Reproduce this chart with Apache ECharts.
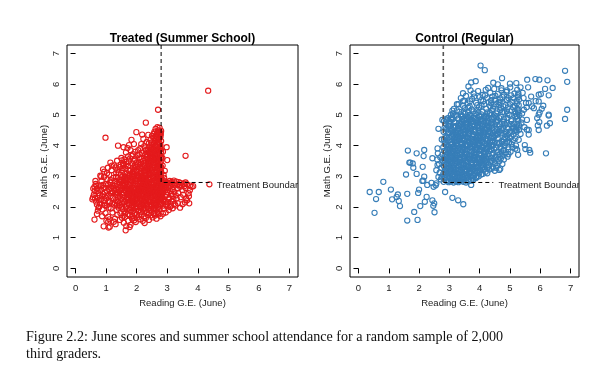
<!DOCTYPE html>
<html><head><meta charset="utf-8">
<script src="https://cdn.jsdelivr.net/npm/echarts@6/dist/echarts.min.js"></script>
<style>html,body{margin:0;padding:0;background:#fff}#c{width:616px;height:384px}</style>
</head><body><div id="c"></div>
<script>
const panelTitles = ['Treated (Summer School)', 'Control (Regular)'];
const xAxisName = 'Reading G.E. (June)';
const yAxisName = 'Math G.E. (June)';
const axisTicks = [0, 1, 2, 3, 4, 5, 6, 7];
const tickLabels = ['0', '1', '2', '3', '4', '5', '6', '7'];
const boundary = 2.8;
const boundaryLineEnd = 4.45;
const boundaryLabel = 'Treatment Boundary';
const boundaryLabelAt = [4.62, 2.72];
const caption1 = 'Figure 2.2: June scores and summer school attendance for a random sample of 2,000';
const caption2 = 'third graders.';

// [reading, math] June scores, treated students
const treatedPoints = [
[4.34,5.79],[2.70,5.17],[2.30,4.75],[0.98,4.26],[1.39,4.00],[1.99,4.44],[2.18,4.36],[1.83,4.19],[3.60,3.67],[2.98,3.95],[3.00,3.53],[4.38,2.74],[1.64,1.24],[1.77,1.35],[0.92,1.37],[1.08,1.33],[1.12,1.36],[1.31,1.44],[2.26,1.48],[0.62,1.59],[1.07,1.52],[0.55,2.25],[0.57,2.31],[0.62,2.66],[0.66,2.75],[0.70,1.77],[0.77,2.00],[0.90,3.23],[0.84,2.99],[1.03,3.10],[1.14,3.45],[1.36,3.51],[1.31,3.29],[3.72,2.12],[3.85,2.68],[3.74,2.55],[3.50,2.09],[3.27,2.05],[3.09,2.00],
[2.62,4.55],[2.68,4.60],[2.75,4.58],[2.72,4.50],[2.58,4.45],[2.66,4.40],[2.77,4.42],[2.50,4.32],[2.55,4.25],[2.45,4.18],[2.40,4.08],[2.33,4.12],[2.25,3.98],[2.12,3.92],[2.05,3.85],[1.95,3.80],[1.88,3.72],[1.80,3.85],[1.72,3.65],[1.65,3.78],[1.60,3.55],[1.55,3.42],[1.50,3.60],[1.48,3.38],[1.70,3.92],[2.22,4.22],[1.91,4.05],[2.38,4.35],[2.15,4.05],[1.57,3.95],[1.75,4.02],
[2.85,3.35],[2.88,3.05],[2.92,3.18],[2.84,3.60],[2.90,2.95],[2.86,3.80],
[2.78,4.30],[2.74,4.21],[2.69,4.12],[2.77,4.05],[2.62,4.02],[2.71,3.96],[2.56,3.93],[2.79,3.88],[2.65,3.84],[2.48,3.81],[2.73,3.77],[2.60,3.72],[2.76,3.69],[2.52,3.66],[2.68,3.62],[2.43,3.60],[2.79,3.57],[2.57,3.54],[2.70,3.50],[2.47,3.47],[2.64,3.44],[2.76,3.41],[2.38,3.39],[2.55,3.36],[2.72,3.33],[2.61,3.30],[2.44,3.27],[2.78,3.25],[2.50,3.22],[2.67,3.19],[2.35,3.17],[2.58,3.14],[2.74,3.11],[2.42,3.09],[2.63,3.06],[2.79,3.03],[2.53,3.01],[2.69,2.98],[2.37,2.96],[2.46,2.93],[2.75,2.90],[2.59,2.88],[2.32,2.86],[2.66,2.83],[2.49,2.81],[2.78,2.78],[2.40,2.76],[2.56,2.73],[2.71,2.70],[2.34,2.68],[2.62,2.65],[2.45,2.62],[2.77,2.60],[2.52,2.57],[2.68,2.55],[2.39,2.52],[2.58,2.49],[2.74,2.46],[2.44,2.44],[2.63,2.41],[2.31,2.39],[2.54,2.36],[2.79,2.34],[2.48,2.31],[2.67,2.28],[2.36,2.26],[2.60,2.23],[2.72,2.20],[2.43,2.17],[2.55,2.14],[2.76,2.11],[2.33,2.08],[2.64,2.05],[2.50,2.02],
[2.80,4.48],[2.79,4.38],[2.80,4.15],[2.78,3.98],[2.80,3.80],[2.80,3.63],[2.79,3.46],[2.80,3.30],[2.80,3.15],[2.79,2.97],[2.80,2.85],[2.80,2.68],[2.79,2.52],[2.80,2.40],[2.80,2.25],[2.70,4.35],[2.66,4.27],[2.73,4.10],[2.60,3.98],[2.70,3.87],[2.53,3.75],[2.66,3.74],[2.74,3.58],[2.61,3.59],[2.49,3.52],[2.69,3.38],[2.58,3.26],[2.75,3.20],[2.52,3.10],[2.65,2.94],[2.72,2.83],[2.57,2.78],[2.42,2.70],[2.67,2.62],[2.50,2.50],[2.70,2.38],[2.59,2.30],[2.45,2.22],[2.73,2.15],[2.62,2.10],[2.41,2.03],[2.57,1.96],[2.75,1.93],[2.47,1.89],[2.68,1.85],[2.34,1.83],[2.55,1.79],[2.72,1.76],[2.44,3.70],[2.37,3.55],[2.30,3.44],[2.41,3.33],[2.28,3.21],[2.63,4.20],[2.58,4.10],[2.51,4.02],[2.45,3.92],[2.36,3.84],[2.29,3.73],
[1.52,3.52],[1.78,3.58],[1.95,3.55],[2.08,3.61],[2.21,3.50],[2.33,3.63],[1.66,3.47],[2.00,3.45],
[1.44,3.30],[1.58,3.36],[1.71,3.33],[1.86,3.41],[1.97,3.31],[2.12,3.38],[2.26,3.35],[2.38,3.42],[1.63,3.25],[1.92,3.22],[2.17,3.26],
[1.41,3.12],[1.53,3.18],[1.68,3.10],[1.80,3.20],[1.89,3.08],[2.03,3.16],[2.14,3.11],[2.24,3.19],[2.32,3.06],[1.75,3.02],[2.07,3.01],[1.48,3.04],
[1.38,2.95],[1.50,2.90],[1.61,2.98],[1.73,2.92],[1.84,2.99],[1.95,2.91],[2.06,2.97],[2.18,2.93],[2.27,2.99],[1.57,2.84],[1.83,2.86],[2.11,2.85],[2.22,2.88],
[1.35,2.76],[1.44,2.81],[1.56,2.72],[1.66,2.79],[1.77,2.71],[1.89,2.78],[1.99,2.74],[2.09,2.70],[2.20,2.77],[2.29,2.73],[1.47,2.68],[1.70,2.66],[1.93,2.64],[2.16,2.62],
[1.33,2.58],[1.42,2.52],[1.53,2.61],[1.62,2.55],[1.74,2.59],[1.85,2.51],[1.96,2.57],[2.05,2.53],[2.13,2.60],[2.24,2.56],[2.31,2.50],[1.58,2.46],[1.79,2.44],[2.01,2.47],[2.20,2.43],
[1.36,2.40],[1.46,2.34],[1.55,2.39],[1.67,2.31],[1.76,2.37],[1.88,2.33],[1.98,2.38],[2.10,2.30],[2.19,2.36],[2.28,2.32],[1.50,2.26],[1.72,2.24],[1.94,2.25],[2.15,2.22],
[1.39,2.18],[1.52,2.12],[1.63,2.19],[1.75,2.13],[1.86,2.17],[1.97,2.10],[2.08,2.16],[2.18,2.11],[2.26,2.19],[1.45,2.06],[1.68,2.04],[1.90,2.07],[2.12,2.03],[2.22,2.05],
[1.41,1.98],[1.54,1.93],[1.65,1.99],[1.78,1.91],[1.89,1.97],[2.00,1.94],[2.11,1.99],[2.21,1.92],[2.30,1.96],[1.60,1.86],[1.83,1.84],[2.05,1.87],[2.25,1.85],
[1.47,1.80],[1.71,1.77],[1.94,1.79],[2.16,1.76],[2.36,1.74],[1.57,1.72],[1.86,1.70],[2.08,1.73],
[1.64,2.88],[1.81,2.62],[1.90,2.48],[2.03,2.68],[2.14,2.79],[2.25,2.66],[2.35,2.58],[1.69,2.43],[1.83,2.20],[2.02,2.28],[2.30,2.23],[2.37,2.92],[2.27,3.10],[2.10,3.27],[1.87,3.13],[1.70,2.87],[1.60,2.69],[1.96,2.85],[2.19,2.98],[2.32,2.80],[2.39,3.15],[2.04,2.40],[1.77,2.52],[1.92,2.15],[2.23,2.47],[2.36,2.37],[1.62,3.08],[2.00,3.04],[1.55,2.78],[2.12,2.50],
[0.60,2.40],[0.63,2.52],[0.67,2.18],[0.70,2.61],[0.72,2.30],[0.75,2.45],[0.78,2.70],[0.80,2.12],[0.82,2.55],[0.85,2.85],[0.86,2.35],[0.88,1.92],[0.91,2.62],[0.93,2.98],[0.95,2.22],[0.96,2.48],[0.98,1.80],[1.00,2.75],[1.02,2.05],[1.04,2.90],[1.05,2.38],[1.07,1.68],[1.09,2.58],[1.10,3.05],[1.12,2.15],[1.13,2.80],[1.15,1.95],[1.16,2.45],[1.18,3.20],[1.20,2.68],[1.21,1.82],[1.23,2.30],[1.24,2.95],[1.26,2.08],[1.27,2.55],[1.29,1.62],[1.30,2.85],[1.32,2.22],[1.33,3.10],[1.34,1.90],[1.36,2.48],[1.37,1.75],[1.38,2.65],[0.65,2.85],[0.73,1.88],[0.81,3.02],[0.87,1.70],[0.94,3.15],[1.01,1.55],[1.06,3.28],[1.11,1.60],[1.19,3.35],[1.25,1.52],[0.70,2.08],[0.76,2.22],[0.90,2.42],[0.99,2.63],[1.08,2.18],[1.14,2.35],[1.22,2.48],[1.28,2.70],[1.35,2.05],[0.58,2.60],[0.68,2.70],[0.84,2.25],[0.97,2.05],[1.03,2.52],[1.17,2.62],[1.31,2.40],[0.79,2.38],[0.89,2.72],[1.00,2.30],[1.20,2.12],[0.64,2.28],[0.75,1.98],
[1.45,1.58],[1.58,1.49],[1.72,1.55],[1.85,1.62],[1.97,1.51],[2.10,1.60],[2.40,1.58],[2.52,1.66],[2.65,1.62],[2.78,1.70],[1.80,1.42],[1.92,1.57],[2.02,1.66],[1.52,1.65],[2.30,1.64],[1.66,1.38],[2.20,1.55],[2.86,1.78],[2.60,1.72],[2.95,1.82],
[2.85,2.82],[2.92,2.84],[3.00,2.80],[3.08,2.85],[3.15,2.82],[3.22,2.86],[3.30,2.83],[3.38,2.81],[3.45,2.78],[3.55,2.76],[3.65,2.74],[3.75,2.70],[3.80,2.66],
[2.84,2.70],[2.90,2.62],[2.96,2.72],[3.02,2.55],[3.10,2.68],[3.18,2.58],[3.25,2.70],[3.33,2.60],[3.42,2.66],[3.50,2.55],[3.60,2.62],[3.70,2.45],[2.86,2.45],[2.93,2.35],[3.00,2.48],[3.07,2.30],[3.13,2.42],[3.20,2.25],[3.28,2.38],[3.36,2.46],[3.44,2.32],[3.52,2.40],[3.62,2.28],[3.71,2.35],[2.88,2.18],[2.95,2.08],[3.03,2.15],[3.12,2.05],[3.18,1.96],[3.35,2.12],[3.42,1.98],[3.58,2.15],[3.65,2.22],[2.90,1.95],[3.05,1.90],[2.84,2.58],[2.98,2.62],[3.16,2.74],[3.40,2.72],[3.56,2.68],[2.83,2.30],[2.91,2.76],[3.05,2.77],[3.26,2.77],[3.48,2.70],
[1.74,3.48],[1.83,3.66],[1.91,3.50],[2.02,3.69],[2.16,3.57],[2.27,3.68],[2.39,3.49],[2.47,3.63],[2.56,3.46],[2.63,3.68],[2.71,3.55],[2.77,3.34],[2.13,3.46],[2.35,3.29],
[2.19,3.75],[2.31,3.86],[2.42,3.97],[2.54,3.86],[2.59,4.15],[2.67,4.06],[2.75,4.25],[2.77,3.93],[2.64,3.52],[2.52,3.58],[2.46,3.74],[2.39,3.79],[2.27,3.91],[2.09,3.72],[2.48,4.10],[2.69,4.45],[2.74,4.37],[2.61,4.31],[2.56,4.38],
[1.54,3.27],[1.67,3.40],[1.79,3.09],[1.88,3.29],[1.99,3.19],[2.05,3.39],[2.16,3.17],[2.23,3.42],[2.31,3.27],[2.40,3.05],[2.47,3.19],[2.55,3.42],[2.62,3.13],[2.68,3.28],[2.77,3.13],[1.73,3.21],[1.95,3.37],[2.19,3.04],[2.43,3.46],[2.66,3.01],
[1.43,2.88],[1.52,2.97],[1.61,2.77],[1.69,2.95],[1.78,2.83],[1.87,2.93],[1.94,2.70],[2.02,2.89],[2.11,2.76],[2.18,2.67],[2.26,2.91],[2.33,2.63],[2.41,2.87],[2.49,2.67],[2.57,2.96],[2.64,2.72],[2.71,2.91],[2.78,2.65],[1.49,2.63],[1.73,2.74],[1.99,2.96],[2.24,2.78],[2.46,2.79],[2.70,2.77],
[1.40,2.45],[1.49,2.55],[1.57,2.33],[1.65,2.50],[1.73,2.29],[1.81,2.55],[1.89,2.41],[1.97,2.30],[2.06,2.58],[2.14,2.42],[2.22,2.28],[2.29,2.59],[2.37,2.45],[2.45,2.33],[2.53,2.55],[2.61,2.37],[2.69,2.49],[2.77,2.27],[1.61,2.60],[1.86,2.27],[2.09,2.45],[2.33,2.29],[2.56,2.44],[2.74,2.57],
[1.43,2.12],[1.51,2.01],[1.59,2.16],[1.67,1.93],[1.75,2.07],[1.83,1.97],[1.91,2.18],[1.99,2.02],[2.07,1.90],[2.15,2.09],[2.23,1.96],[2.31,2.14],[2.39,1.95],[2.47,2.09],[2.55,1.92],[2.63,2.14],[2.71,2.01],[2.79,2.08],[1.63,1.81],[1.89,1.88],[2.14,1.83],[2.41,1.80],[2.65,1.95],[1.97,2.21],
[1.62,1.68],[1.77,1.73],[2.00,1.75],[2.25,1.70],[2.48,1.73],[2.70,1.80],[1.92,1.64],
[2.82,2.62],[2.87,2.52],[2.94,2.56],[2.99,2.39],[3.05,2.63],[3.11,2.52],[3.17,2.36],[3.23,2.49],[3.31,2.28],[2.83,2.40],[2.89,2.26],[2.96,2.17],[3.04,2.26],[3.14,2.18],[3.24,2.10],[2.82,2.12],[2.87,2.05],[3.00,2.02],[2.81,2.77],[2.95,2.80],[3.12,2.79],[3.34,2.74],[3.60,2.80],
[1.39,2.32],[1.29,2.14],[1.18,2.52],[1.06,2.72],[0.95,2.35],[0.83,2.68],[0.72,2.52],[1.15,2.88],[1.25,2.62],[1.32,2.98],[1.08,1.98],[0.93,2.12],[1.40,2.72],[1.37,3.20],[1.26,3.36],
[1.62,2.93],[1.71,3.04],[1.80,2.89],[1.87,3.02],[1.93,3.15],[2.01,2.93],[2.09,3.09],[2.16,2.88],[2.24,3.04],[2.31,2.94],[2.38,3.22],[2.45,3.06],[2.53,3.28],[2.60,3.02],[2.67,3.37],[2.73,3.04],
[1.64,2.62],[1.72,2.49],[1.80,2.73],[1.88,2.60],[1.95,2.45],[2.03,2.62],[2.11,2.56],[2.19,2.72],[2.27,2.52],[2.34,2.74],[2.42,2.57],[2.50,2.74],[2.57,2.61],[2.65,2.83],[2.73,2.66],
[1.66,2.25],[1.74,2.40],[1.82,2.31],[1.90,2.22],[1.98,2.44],[2.06,2.35],[2.14,2.26],[2.22,2.40],[2.30,2.43],[2.38,2.18],[2.46,2.41],[2.54,2.26],[2.62,2.48],[2.70,2.30],[2.78,2.44],
[1.71,2.13],[1.84,2.05],[1.96,1.97],[2.09,2.10],[2.21,2.15],[2.34,2.02],[2.46,1.98],[2.59,2.05],[2.72,1.89],
[2.20,3.30],[2.28,3.52],[2.35,3.72],[2.43,3.86],[2.50,3.92],[2.58,3.80],[2.65,3.97],[2.72,3.68],[2.76,3.85],[2.70,4.20]
];

// [reading, math] June scores, control students
const controlPoints = [
[0.37,2.49],[0.53,1.81],[0.58,2.26],[0.67,2.49],[0.82,2.82],[1.07,2.57],[1.11,2.25],[1.26,2.33],[1.30,2.41],[1.33,2.20],[1.37,2.03],[1.57,3.06],[1.61,2.43],[1.63,3.84],[1.68,3.45],[1.61,1.56],[1.79,3.42],[1.81,3.28],[1.84,1.84],[1.92,3.75],[1.92,3.08],[1.95,1.58],[1.97,2.46],[2.00,2.57],[2.04,2.03],[2.12,3.31],[2.17,2.99],[2.11,2.85],[2.17,3.86],[2.15,3.66],[2.19,2.17],[2.25,2.33],[2.27,2.72],[2.44,2.22],[2.47,2.04],[2.50,2.12],[2.51,1.83],[2.41,2.79],[2.44,3.59],[2.61,3.37],[2.61,3.91],[2.64,4.55],[2.86,2.49],[3.10,2.30],[3.29,2.22],[3.46,2.09],[3.72,2.72],[2.48,2.66],[2.57,2.77],[1.71,3.45],[2.14,2.86],
[2.62,3.75],[2.57,3.20],[2.75,2.99],[2.55,2.71],[2.66,3.40],[2.70,3.62],[2.74,3.28],[2.68,3.12],[2.78,3.50],[2.72,2.90],[2.64,2.98],[2.77,3.70],[2.60,3.55],[2.75,4.20],[2.77,4.84],[2.95,4.90],[3.05,5.00],[3.25,5.35],[2.88,4.86],[3.10,5.14],[3.49,5.46],
[2.81,2.82],[2.83,2.95],[2.80,3.08],[2.86,3.20],[2.82,3.33],[2.84,3.45],[2.81,3.58],[2.87,3.70],[2.83,3.83],[2.80,3.95],[2.85,4.08],[2.82,4.20],[2.88,4.32],[2.81,4.45],[2.84,4.58],[2.86,4.72],[2.82,4.80],[2.90,2.88],[2.92,3.02],[2.89,3.14],[2.93,3.27],[2.90,3.39],[2.94,3.52],[2.91,3.64],[2.95,3.77],[2.92,3.89],[2.90,4.02],[2.94,4.14],[2.91,4.27],[2.95,4.39],[2.93,4.52],[2.96,4.64],
[2.98,2.81],[3.06,2.84],[3.14,2.80],[3.22,2.83],[3.30,2.81],[3.38,2.85],[3.46,2.82],[3.55,2.80],[3.63,2.84],[3.72,2.86],[3.80,2.90],[3.88,2.95],
[3.02,2.95],[3.10,3.05],[3.18,2.92],[3.26,3.10],[3.34,2.98],[3.42,3.15],[3.50,3.02],[3.58,2.94],[3.66,3.08],[3.74,3.18],[3.82,3.04],[3.92,3.12],[4.02,3.20],[4.10,3.08],[3.05,3.18],[3.21,3.22],[3.37,3.20],[3.53,3.25],[3.70,3.00],[3.97,3.00],[4.20,3.15],[4.32,3.22],
[3.00,3.30],[3.08,3.42],[3.16,3.35],[3.24,3.48],[3.32,3.32],[3.40,3.44],[3.48,3.38],[3.56,3.50],[3.64,3.34],[3.72,3.46],[3.80,3.30],[3.88,3.42],[3.96,3.36],[4.04,3.48],[4.12,3.32],[4.22,3.45],[4.30,3.38],[4.40,3.50],[4.50,3.42],[4.58,3.35],[3.12,3.26],[3.45,3.28],[3.78,3.24],[4.08,3.28],[4.45,3.30],
[3.01,3.62],[3.09,3.75],[3.17,3.56],[3.25,3.70],[3.33,3.58],[3.41,3.78],[3.49,3.64],[3.57,3.72],[3.65,3.55],[3.73,3.80],[3.81,3.60],[3.89,3.74],[3.97,3.57],[4.05,3.68],[4.13,3.79],[4.21,3.61],[4.29,3.73],[4.37,3.58],[4.45,3.76],[4.53,3.64],[4.62,3.70],[4.75,3.66],[4.85,3.75],[3.20,3.82],[3.52,3.52],[3.85,3.86],[4.18,3.53],[4.70,3.58],
[3.02,3.92],[3.10,4.05],[3.18,3.88],[3.26,4.00],[3.34,3.94],[3.42,4.08],[3.50,3.85],[3.58,3.98],[3.66,4.10],[3.74,3.90],[3.82,4.02],[3.90,3.95],[3.98,4.08],[4.06,3.87],[4.14,4.00],[4.22,3.92],[4.30,4.06],[4.38,3.88],[4.46,4.02],[4.54,3.94],[4.64,4.08],[4.72,3.90],[4.82,4.00],[4.95,3.95],[5.05,4.05],[3.14,3.97],[3.46,3.96],[3.78,4.12],[4.10,4.12],[4.42,3.98],
[3.00,4.18],[3.08,4.30],[3.16,4.15],[3.24,4.36],[3.32,4.22],[3.40,4.32],[3.48,4.16],[3.56,4.28],[3.64,4.38],[3.72,4.20],[3.80,4.34],[3.88,4.24],[3.96,4.40],[4.04,4.18],[4.12,4.30],[4.20,4.22],[4.28,4.38],[4.36,4.26],[4.44,4.16],[4.52,4.34],[4.60,4.24],[4.70,4.40],[4.80,4.20],[4.90,4.32],[5.00,4.25],[5.12,4.36],[3.20,4.26],[3.52,4.40],[3.84,4.16],[4.16,4.40],[4.48,4.28],
[3.05,4.48],[3.13,4.60],[3.21,4.44],[3.29,4.56],[3.37,4.68],[3.45,4.50],[3.53,4.62],[3.61,4.46],[3.69,4.58],[3.77,4.70],[3.85,4.52],[3.93,4.64],[4.01,4.47],[4.09,4.60],[4.17,4.52],[4.25,4.66],[4.33,4.48],[4.41,4.58],[4.49,4.70],[4.57,4.54],[4.65,4.62],[4.75,4.50],[4.85,4.68],[4.95,4.55],[5.08,4.62],[5.20,4.50],[3.00,4.62],[3.40,4.42],[3.80,4.45],[4.20,4.42],
[3.00,4.80],[3.10,4.92],[3.20,4.76],[3.30,4.88],[3.40,4.98],[3.50,4.82],[3.60,4.94],[3.70,4.78],[3.80,4.90],[3.90,4.84],[4.00,4.96],[4.10,4.80],[4.20,4.92],[4.30,4.76],[4.40,4.88],[4.50,4.98],[4.60,4.82],[4.70,4.94],[4.80,4.78],[4.92,4.90],[5.05,4.85],[5.18,4.95],[3.55,4.72],[3.95,4.74],
[3.12,5.05],[3.25,5.15],[3.38,5.02],[3.50,5.22],[3.62,5.08],[3.74,5.18],[3.86,5.04],[3.98,5.25],[4.10,5.10],[4.22,5.20],[4.34,5.06],[4.46,5.28],[4.58,5.12],[4.70,5.22],[4.82,5.08],[4.94,5.25],[5.06,5.15],[5.18,5.05],[3.45,5.30],[4.05,5.02],
[3.45,5.45],[3.60,5.38],[3.75,5.52],[3.88,5.40],[4.00,5.58],[4.12,5.45],[4.25,5.55],[4.38,5.38],[4.50,5.50],[4.62,5.42],[4.75,5.58],[4.88,5.48],[5.00,5.35],[5.12,5.55],[3.30,5.35],
[3.63,5.93],[3.80,5.70],[3.95,5.78],[4.10,5.65],[4.20,5.82],[4.35,5.72],[4.48,5.85],[4.60,5.68],[4.72,5.80],[4.88,5.75],[5.01,5.90],[5.15,5.70],
[5.22,4.45],[5.26,4.58],[5.24,4.70],[5.28,4.82],[5.23,4.95],[5.27,5.08],[5.25,5.20],[5.29,5.32],[5.22,5.45],[5.26,5.58],[5.28,5.70],[5.24,5.82],[5.30,4.52],[5.31,5.00],[5.30,5.50],
[4.66,3.72],[4.78,3.85],[4.90,4.10],[5.02,3.80],[5.10,4.18],[5.18,3.90],[5.00,4.45],[5.12,4.72],[4.88,4.45],[4.76,4.12],[4.68,3.25],[4.65,3.21],[4.30,3.32],[4.92,3.64],[5.27,3.70],[5.24,3.86],[5.29,4.19],
[4.03,6.61],[4.17,6.46],[3.72,6.06],[3.87,6.10],[3.45,5.71],[4.74,6.20],[4.72,5.87],[5.21,6.04],[5.57,6.15],[5.84,6.17],[5.97,6.15],[6.24,6.13],[6.82,6.44],[6.89,6.08],[6.89,5.17],[6.82,4.87],[6.41,5.88],[6.28,5.64],[6.16,5.85],[5.95,5.66],[5.98,5.08],[6.28,4.98],[6.32,4.73],[6.19,3.75],[5.95,4.51],[5.92,4.66],[5.67,3.77],[5.51,3.89],[5.62,4.51],[5.55,5.25],[5.62,5.39],[5.73,5.28],
[5.79,5.22],[5.95,5.44],[6.02,5.68],[5.95,5.01],[6.28,5.01],[5.97,4.77],[6.22,4.65],[5.64,3.86],[5.49,4.02],[5.56,4.52],[5.53,5.39],[5.46,5.17],[5.56,4.84],[5.62,4.36],[5.20,4.00],[5.70,5.60],[5.85,5.45],[6.10,5.30],[5.42,5.72],[5.60,5.90],[5.38,4.75],[5.48,4.60],[6.05,5.20],[5.90,4.90],[5.40,5.05],
[2.97,3.12],[3.04,3.48],[3.11,3.83],[3.18,4.12],[3.26,4.43],[3.33,4.75],[3.07,2.89],[3.14,3.23],[3.21,3.58],[3.28,3.91],[3.35,4.26],[3.42,4.60],[3.19,3.02],[3.27,3.36],[3.35,3.71],[3.43,4.05],[3.51,4.38],[3.59,4.72],[3.31,2.90],[3.39,3.09],[3.47,3.43],[3.55,3.78],[3.63,4.12],[3.71,4.47],[3.79,4.80],[3.44,2.97],[3.52,3.16],[3.60,3.62],[3.68,3.96],[3.76,4.31],[3.84,4.65],[3.58,3.05],[3.66,3.27],[3.74,3.69],[3.82,3.79],[3.90,4.18],[3.98,4.52],[4.06,4.85],[3.71,3.12],[3.79,3.52],[3.87,3.63],[3.95,4.27],[4.03,4.36],[4.11,4.70],[3.86,3.18],[3.94,3.27],[4.02,3.88],[4.10,3.96],[4.18,4.55],[4.26,4.89],[4.00,3.40],[4.08,3.60],[4.16,3.72],[4.24,4.14],[4.32,4.58],[4.40,4.76],[2.99,3.52],[3.06,3.77],[3.13,4.42],[3.22,4.64],[3.29,3.17],[3.36,3.53],[3.44,3.85],[3.53,4.20],[3.61,4.54],[3.69,4.86],[3.28,2.85],[3.48,2.92],[3.62,3.00],[3.93,3.52],[4.13,3.56],[4.27,3.95],[4.35,4.10],[4.43,4.40],[4.57,4.10],[4.63,4.45],[3.17,4.98],[3.47,5.10],[3.67,5.28],[3.90,5.15],[4.15,5.35],[4.40,5.15],[4.65,5.32],[4.90,5.12],
[3.03,3.07],[3.12,2.91],[3.16,3.14],[3.24,2.96],[3.33,3.13],[3.40,2.90],[3.47,3.08],[3.56,3.19],[3.61,2.89],[3.69,3.17],[3.77,2.96],[3.85,3.10],[3.95,3.18],[4.05,3.06],[4.15,3.22],[4.25,3.10],[4.40,3.25],[4.55,3.28],[2.98,3.00],[2.87,3.05],[3.35,2.87],[3.90,2.98],
[2.89,3.25],[2.97,3.40],[3.03,3.24],[3.10,3.55],[3.18,3.44],[3.26,3.27],[3.30,3.49],[3.38,3.34],[3.46,3.55],[3.54,3.33],[3.60,3.46],[3.68,3.58],[3.76,3.37],[3.84,3.53],[3.92,3.30],[4.00,3.58],[4.07,3.38],[4.16,3.50],[4.26,3.28],[4.34,3.48],[4.42,3.60],[4.52,3.52],[4.64,3.48],[4.80,3.55],[2.85,3.52],[3.22,3.60],[3.58,3.30],[3.98,3.45],
[2.88,3.78],[2.96,3.94],[3.04,3.65],[3.12,3.90],[3.20,3.70],[3.28,3.83],[3.36,3.62],[3.44,3.93],[3.52,3.74],[3.60,3.88],[3.68,3.66],[3.76,3.99],[3.84,3.70],[3.92,3.86],[4.00,3.72],[4.08,3.94],[4.16,3.64],[4.24,3.84],[4.32,3.97],[4.40,3.70],[4.48,3.88],[4.58,3.78],[4.68,3.95],[4.80,3.85],[4.95,3.72],[3.00,3.82],[3.40,3.70],[3.80,3.95],[4.20,3.78],
[2.87,4.12],[2.98,4.26],[3.06,4.05],[3.14,4.34],[3.22,4.08],[3.30,4.30],[3.38,4.12],[3.46,4.36],[3.54,4.04],[3.62,4.25],[3.70,4.06],[3.78,4.38],[3.86,4.10],[3.94,4.30],[4.02,4.05],[4.10,4.24],[4.18,4.08],[4.26,4.32],[4.34,4.14],[4.42,4.30],[4.50,4.10],[4.60,4.36],[4.72,4.15],[4.85,4.28],[4.98,4.12],[3.20,4.40],[3.60,4.02],[4.00,4.32],
[2.89,4.55],[2.99,4.70],[3.08,4.52],[3.16,4.76],[3.24,4.50],[3.32,4.64],[3.40,4.78],[3.48,4.55],[3.56,4.66],[3.64,4.80],[3.72,4.52],[3.80,4.62],[3.88,4.76],[3.96,4.58],[4.04,4.72],[4.12,4.46],[4.22,4.76],[4.30,4.60],[4.38,4.72],[4.46,4.50],[4.55,4.78],[4.66,4.70],[4.78,4.58],[4.90,4.75],[5.02,4.70],[5.14,4.55],
[2.92,4.82],[3.05,4.88],[3.15,5.20],[3.24,4.98],[3.33,5.10],[3.42,4.86],[3.52,5.04],[3.62,5.25],[3.70,4.98],[3.80,5.12],[3.88,4.90],[3.96,5.08],[4.06,5.30],[4.15,4.96],[4.25,5.08],[4.35,5.28],[4.45,4.94],[4.55,5.05],[4.65,4.90],[4.75,5.10],[4.86,5.32],[4.98,5.00],[5.10,5.25],[3.58,4.85],[4.00,4.84],
[3.38,5.55],[3.55,5.62],[3.68,5.45],[3.82,5.60],[3.92,5.32],[4.05,5.48],[4.18,5.64],[4.30,5.42],[4.42,5.60],[4.55,5.35],[4.68,5.50],[4.80,5.66],[4.95,5.55],[5.08,5.42],[3.70,5.80],[4.28,5.88],
[5.21,4.62],[5.25,4.88],[5.27,5.14],[5.23,5.38],[5.26,5.64],[5.30,4.66],
[4.72,3.78],[4.95,3.88],[5.05,4.30],[5.15,4.48],[4.82,4.38],[5.08,3.95],[4.60,3.55],[4.75,3.40],[4.50,3.18],[4.85,4.08],[5.35,4.38],[5.40,4.85],[5.45,5.55],[5.35,5.90],[4.90,5.80],[5.00,6.02],[4.60,6.00],[4.45,6.05],
[2.86,2.93],[2.94,3.18],[3.01,3.45],[3.09,3.68],[3.15,3.98],[3.23,4.20],[3.30,4.47],[3.37,4.70],[3.44,4.95],[2.93,2.84],[3.00,3.15],[3.07,3.34],[3.13,3.62],[3.20,3.93],[3.27,4.16],[3.34,4.38],[3.41,4.62],[3.48,4.88],[3.10,2.97],[3.17,3.28],[3.24,3.52],[3.31,3.77],[3.38,4.02],[3.45,4.24],[3.52,4.50],[3.59,4.76],[3.66,5.00],[3.25,2.88],[3.32,3.06],[3.39,3.40],[3.46,3.66],[3.53,3.90],[3.60,4.16],[3.67,4.42],[3.74,4.64],[3.81,4.92],[3.43,2.93],[3.50,3.21],[3.57,3.46],[3.64,3.70],[3.71,3.94],[3.78,4.23],[3.85,4.46],[3.92,4.72],[3.99,4.94],[3.59,2.97],[3.66,3.13],[3.73,3.42],[3.80,3.66],[3.87,3.91],[3.94,4.14],[4.01,4.42],[4.08,4.66],[4.15,4.90],[3.79,3.01],[3.86,3.30],[3.93,3.61],[4.00,3.84],[4.07,4.10],[4.14,4.34],[4.21,4.58],[4.28,4.80],[3.99,3.12],[4.06,3.35],[4.13,3.66],[4.20,3.90],[4.27,4.18],[4.34,4.44],[4.41,4.66],[4.48,4.90],[4.17,3.26],[4.24,3.55],[4.31,3.82],[4.38,4.00],[4.45,4.24],[4.52,4.46],[4.59,4.68],[2.91,3.58],[2.99,3.86],[3.06,4.12],[3.12,4.38],[3.19,4.62],[2.97,4.44],[3.03,4.72],[3.11,4.86],[2.99,3.70],[3.07,3.94],[3.14,3.06],[3.21,3.42],[3.28,3.68],[3.36,3.86],[3.43,4.18],[3.50,4.44],[3.58,4.60],[3.65,4.90],[3.72,3.30],[3.79,3.62],[3.86,3.88],[3.94,4.06],[4.01,4.28],[4.09,4.54],[4.16,4.76],[4.23,4.98],
[4.32,5.02],[4.44,5.20],[4.56,4.92],[4.68,5.16],[4.80,4.86],[4.92,5.04],[5.04,4.80],[5.16,5.12],[4.38,5.48],[4.52,5.62],[4.66,5.40],[4.78,5.28],[4.90,5.50],[5.04,5.64],[5.16,5.30],[4.58,4.40],[4.70,4.56],[4.82,4.72],[4.94,4.36],[5.06,4.56],[5.18,4.24]
];

const AXMIN = -0.28, AXMAX = 7.28;
const FONT = 'Liberation Sans';
const RED = '#E41A1C', BLUE = '#377EB8';

function xAx(i) {
  return {
    type: 'value', gridIndex: i, min: AXMIN, max: AXMAX,
    name: xAxisName, nameLocation: 'middle', nameGap: 18,
    nameTextStyle: { fontFamily: FONT, fontSize: 9.5, color: '#222' },
    axisLine: { show: false }, splitLine: { show: false },
    axisTick: { show: true, length: 5, customValues: axisTicks, lineStyle: { color: '#000', width: 1 } },
    axisLabel: { customValues: axisTicks, margin: 6, fontFamily: FONT, fontSize: 9.5, color: '#222',
      formatter: v => tickLabels[axisTicks.indexOf(Math.round(v))] }
  };
}
function yAx(i) {
  return {
    type: 'value', gridIndex: i, min: AXMIN, max: AXMAX,
    name: yAxisName, nameLocation: 'middle', nameGap: 18,
    nameTextStyle: { fontFamily: FONT, fontSize: 9.5, color: '#222' },
    axisLine: { show: false }, splitLine: { show: false },
    axisTick: { show: true, length: 5, customValues: axisTicks, lineStyle: { color: '#000', width: 1 } },
    axisLabel: { customValues: axisTicks, margin: 6, rotate: 90, fontFamily: FONT, fontSize: 9.5, color: '#222',
      formatter: v => tickLabels[axisTicks.indexOf(Math.round(v))] }
  };
}
function scatter(i, pts, col) {
  return {
    type: 'scatter', xAxisIndex: i, yAxisIndex: i, data: pts, symbol: 'circle', symbolSize: 5.2,
    silent: true, animation: false, large: false, progressive: 0,
    itemStyle: { color: 'rgba(0,0,0,0)', borderColor: col, borderWidth: 1.1, opacity: 1 },
    emphasis: { disabled: true }
  };
}
function bLine(i, pts, col, w) {
  return {
    type: 'line', xAxisIndex: i, yAxisIndex: i, data: pts, symbol: 'none', silent: true, z: 5,
    lineStyle: { color: col, width: w, type: [4, 3] }, animation: false
  };
}
function bText(i) {
  return {
    type: 'custom', xAxisIndex: i, yAxisIndex: i, clip: true, silent: true, z: 6,
    data: [boundaryLabelAt],
    renderItem: (params, api) => {
      const p = api.coord([api.value(0), api.value(1)]);
      return { type: 'text', x: p[0], y: p[1],
        style: { text: boundaryLabel, fill: '#222', font: '9.5px "Liberation Sans"', align: 'left', verticalAlign: 'middle' } };
    }
  };
}

const chart = echarts.init(document.getElementById('c'), null, { renderer: 'canvas' });
chart.setOption({
  animation: false,
  backgroundColor: '#fff',
  grid: [
    { left: 67, top: 45, width: 231, height: 232, show: true, borderColor: '#000', borderWidth: 1, backgroundColor: 'transparent' },
    { left: 350, top: 45, width: 229, height: 232, show: true, borderColor: '#000', borderWidth: 1, backgroundColor: 'transparent' }
  ],
  xAxis: [xAx(0), xAx(1)],
  yAxis: [yAx(0), yAx(1)],
  series: [
    scatter(0, treatedPoints, RED),
    scatter(1, controlPoints, BLUE),
    bLine(0, [[boundary, AXMAX], [boundary, boundary], [boundaryLineEnd, boundary]], '#000', 1),
    bLine(1, [[boundary, AXMAX], [boundary, boundary]], '#555', 1.6),
    bLine(1, [[boundary, boundary], [boundaryLineEnd, boundary]], '#000', 1),
    bText(0), bText(1)
  ],
  graphic: [
    { type: 'text', x: 182.5, y: 39, style: { text: panelTitles[0], font: 'bold 12px "Liberation Sans"', fill: '#000', align: 'center', verticalAlign: 'middle' } },
    { type: 'text', x: 464.5, y: 39, style: { text: panelTitles[1], font: 'bold 12px "Liberation Sans"', fill: '#000', align: 'center', verticalAlign: 'middle' } },
    { type: 'text', x: 26, y: 337, style: { text: caption1, font: '14.1px "Liberation Serif"', fill: '#111', align: 'left', verticalAlign: 'middle' } },
    { type: 'text', x: 26, y: 354, style: { text: caption2, font: '14.1px "Liberation Serif"', fill: '#111', align: 'left', verticalAlign: 'middle' } }
  ]
});
</script></body></html>
